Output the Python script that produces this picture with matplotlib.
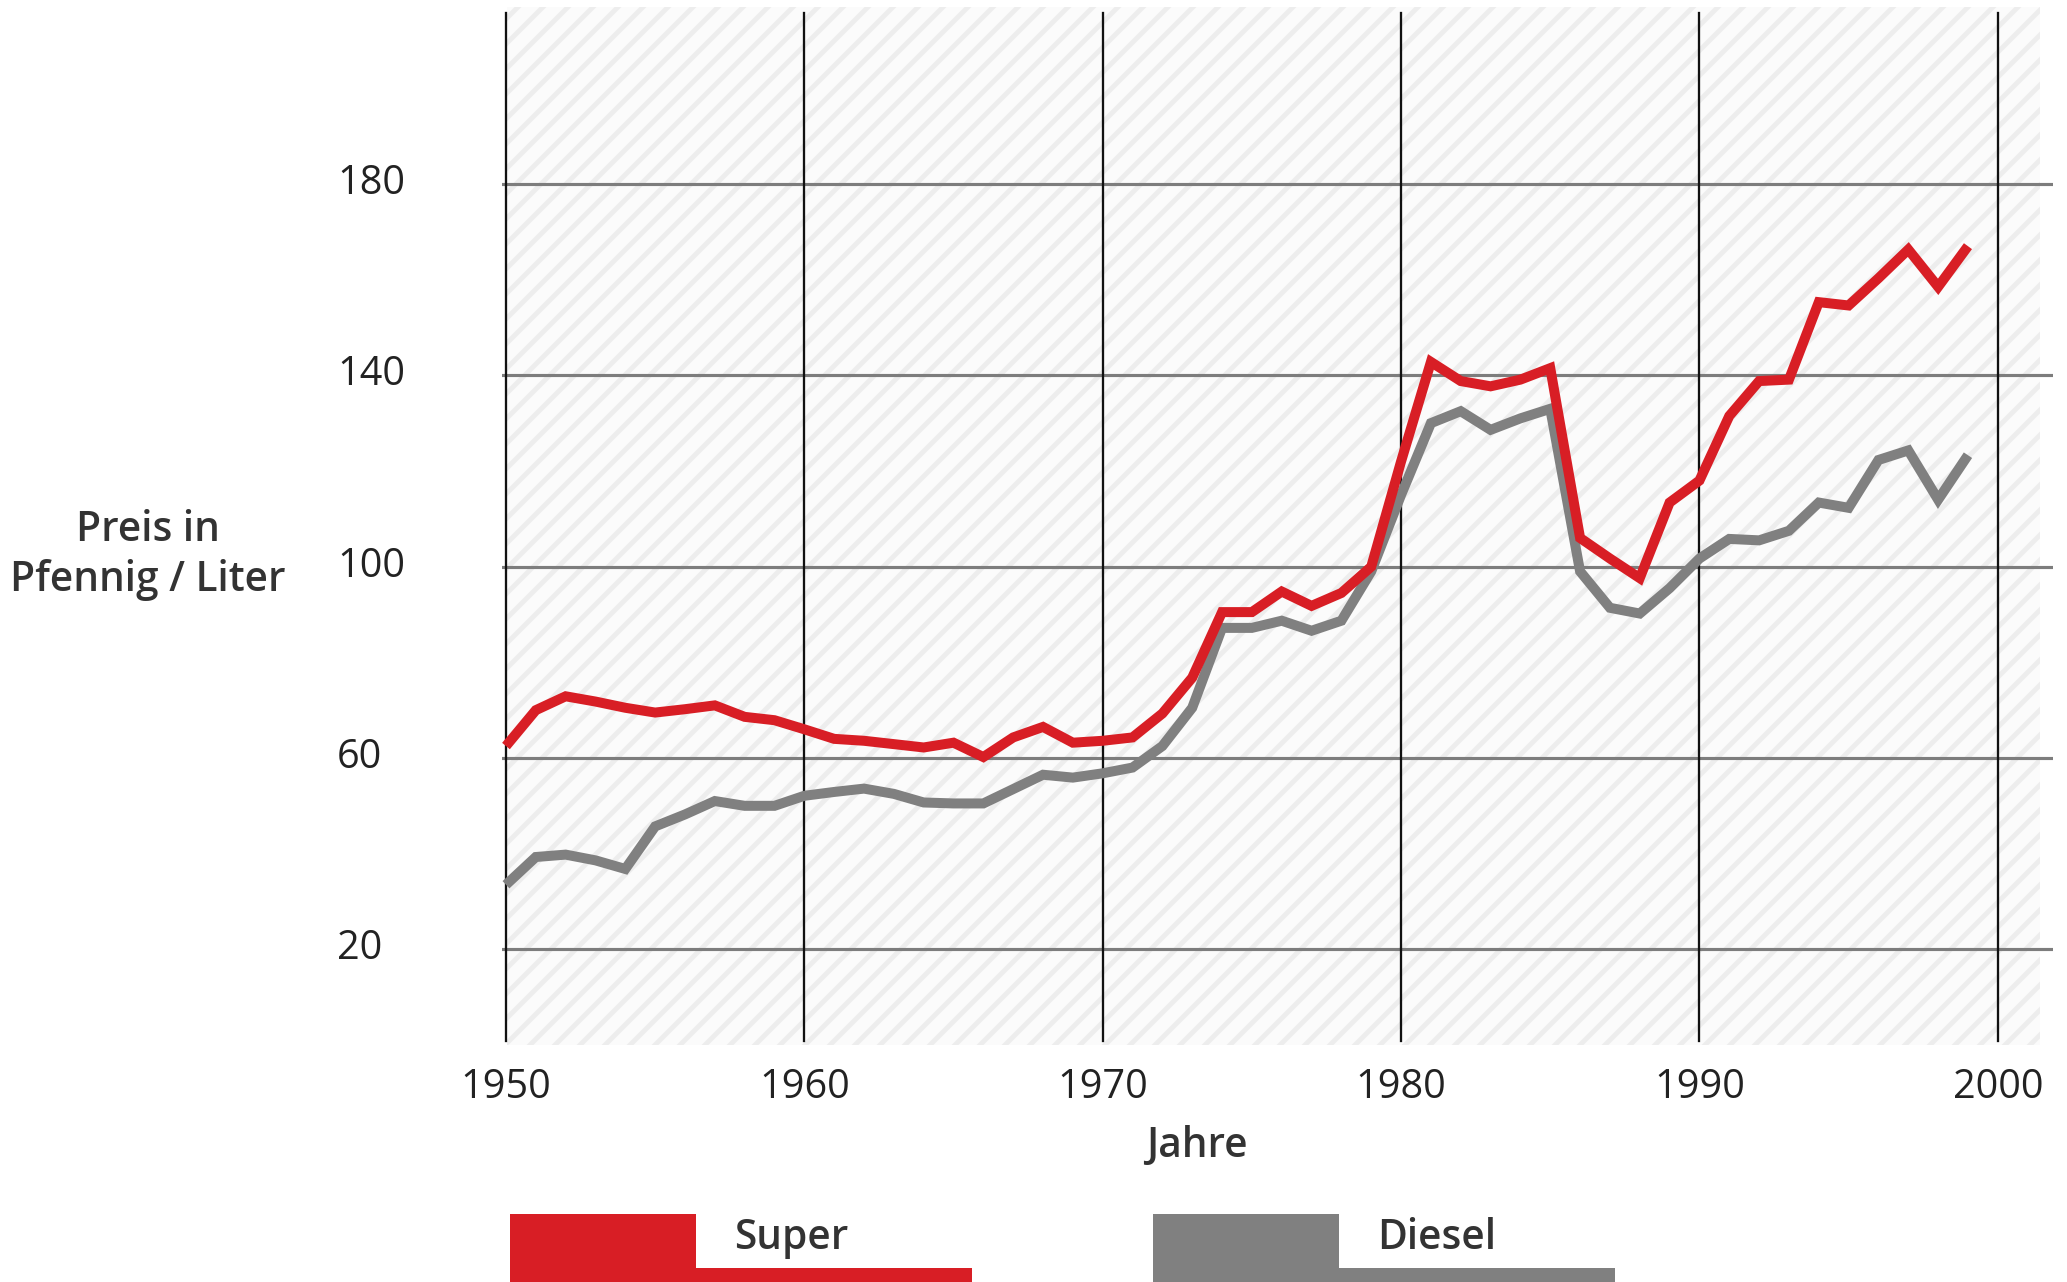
import matplotlib
matplotlib.use("Agg")
import matplotlib.pyplot as plt
from matplotlib.patches import Rectangle
from matplotlib.transforms import ScaledTranslation

plt.rcParams['font.family'] = ['Open Sans', 'DejaVu Sans']
plt.rcParams['hatch.linewidth'] = 2.3
plt.rcParams['hatch.color'] = '#ededed'

years = list(range(1950, 2000))
super_price = [62.5, 70, 72.9, 71.8, 70.5, 69.5, 70.2, 71, 68.6, 67.9,
               66, 64, 63.6, 62.9, 62.2, 63.2, 60.2, 64.3, 66.5, 63.2,
               63.6, 64.3, 69.3, 76.8, 90.5, 90.5, 94.8, 91.8, 94.5, 100,
               122, 142.8, 138.8, 137.7, 139.1, 141.5, 106, 101.7, 97.6, 113.4,
               118, 131.5, 138.8, 139.1, 155.3, 154.6, 160.3, 166.3, 158.5, 167]
diesel_price = [33.5, 39.3, 39.8, 38.6, 36.8, 45.7, 48.2, 51, 50, 50,
                52.1, 52.9, 53.6, 52.5, 50.7, 50.5, 50.5, 53.5, 56.5, 55.9,
                56.8, 58, 62.5, 70.5, 87.2, 87.2, 88.7, 86.6, 88.7, 99,
                115, 130, 132.5, 128.6, 131, 133, 99, 91.4, 90.2, 95.5,
                101.7, 105.8, 105.5, 107.5, 113.4, 112.3, 122.3, 124.3, 114, 123.3]
y_ticks = [20, 60, 100, 140, 180]
x_ticks = [1950, 1960, 1970, 1980, 1990, 2000]
series_names = ["Super", "Diesel"]
colors = ["#d81e25", "#808080"]
text_color = "#333333"

W, H, DPI = 2067, 1282, 150
fig = plt.figure(figsize=(W / DPI, H / DPI), dpi=DPI)
ax = fig.add_axes([501.5 / W, 237 / H, 1551.5 / W, 1038 / H])
ax.set_xlim(1949.85, 2001.85)
ax.set_ylim(0, 217)
ax.patch.set_visible(False)
for s in ax.spines.values():
    s.set_visible(False)

# hatched background
bg = Rectangle((0.0035, 0), 0.988, 1, transform=ax.transAxes,
               facecolor='#fbfbfb', edgecolor='#ededed', linewidth=0,
               hatch='//', zorder=0)
ax.add_patch(bg)

for yv in y_ticks:
    ax.axhline(yv, color='#7d7d7d', lw=1.5, zorder=1)
for xv in x_ticks:
    ax.axvline(xv, ymin=0.004, ymax=0.994, color='#111111', lw=1.1, zorder=2)

ax.plot(years, diesel_price, color=colors[1], lw=4.8, solid_joinstyle='miter',
        solid_capstyle='butt', zorder=3)
ax.plot(years, super_price, color=colors[0], lw=4.8, solid_joinstyle='miter',
        solid_capstyle='butt', zorder=4)

ax.set_xticks(x_ticks)
ax.set_xticklabels([str(x) for x in x_ticks])
ax.set_yticks(y_ticks)
ax.set_yticklabels([str(y) for y in y_ticks])
ax.tick_params(axis='both', length=0, labelsize=19, labelcolor='#222222')
ax.tick_params(axis='x', pad=11)
ax.tick_params(axis='y', pad=79)
shift = ScaledTranslation(0, 2.5 / 72, fig.dpi_scale_trans)
for lab in ax.get_yticklabels():
    lab.set_horizontalalignment('left')
    lab.set_transform(lab.get_transform() + shift)

ax.set_ylabel("Preis in\nPfennig / Liter", rotation=0, fontsize=19.5,
              fontweight='semibold', color=text_color, ha='center', va='center',
              multialignment='center', linespacing=1.25)
ax.yaxis.set_label_coords(-0.228, 0.472)
ax.set_xlabel("Jahre", fontsize=19.5, fontweight='semibold', color=text_color,
              ha='center', va='center')
ax.xaxis.set_label_coords(0.448, -0.097)

# legend
leg_x = [510, 1153]
for x0, name, c in zip(leg_x, series_names, colors):
    fig.add_artist(Rectangle((x0 / W, 0), 186 / W, 68 / H, transform=fig.transFigure,
                             facecolor=c, edgecolor='none'))
    fig.add_artist(Rectangle(((x0 + 186) / W, 0), 276 / W, 14 / H,
                             transform=fig.transFigure, facecolor=c, edgecolor='none'))
    fig.text((x0 + 224) / W, 44 / H, name, fontsize=19.5, fontweight='semibold',
             color=text_color, ha='left', va='center')

fig.savefig("out.png", dpi=DPI, facecolor='white')
